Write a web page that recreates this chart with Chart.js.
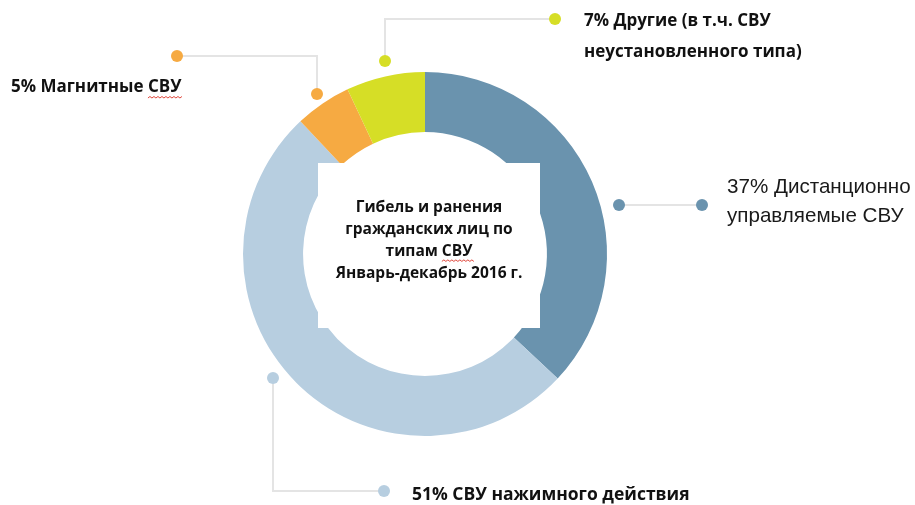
<!DOCTYPE html>
<html>
<head>
<meta charset="utf-8">
<script src="https://cdn.jsdelivr.net/npm/chart.js@4"></script>
<style>
  html, body { margin: 0; padding: 0; background: #fff; }
  #wrap { width: 915px; height: 505px; position: relative; }
</style>
</head>
<body>
<div id="wrap"><canvas id="chart" width="915" height="505"></canvas></div>
<script>
const categories = ['Дистанционно управляемые СВУ', 'СВУ нажимного действия', 'Магнитные СВУ', 'Другие (в т.ч. СВУ неустановленного типа)']
const shares = [37, 51, 5, 7]
const centerTitle = ['Гибель и ранения', 'гражданских лиц по', 'типам СВУ', 'Январь-декабрь 2016 г.']

const colors = ['#6a93ae', '#b7cee0', '#f6aa42', '#d6de26']
const lineColor = '#e4e4e4'

// wavy red spellcheck underline, like in the original screenshot
const squiggle = (ctx, x1, x2, y) => {
  ctx.save()
  ctx.strokeStyle = '#e0453a'
  ctx.lineWidth = 1
  ctx.beginPath()
  ctx.moveTo(x1, y)
  let up = true
  for (let x = x1; x < x2; x += 2) {
    ctx.lineTo(x + 2, up ? y - 1.5 : y)
    up = !up
  }
  ctx.stroke()
  ctx.restore()
}

const dot = (ctx, x, y, r, c) => {
  ctx.fillStyle = c
  ctx.beginPath()
  ctx.arc(x, y, r, 0, Math.PI * 2)
  ctx.fill()
}

const poly = (ctx, pts) => {
  ctx.strokeStyle = lineColor
  ctx.lineWidth = 2
  ctx.beginPath()
  ctx.moveTo(pts[0][0], pts[0][1])
  pts.slice(1).forEach(p => ctx.lineTo(p[0], p[1]))
  ctx.stroke()
}

const labelsPlugin = {
  id: 'calloutLabels',
  afterDraw (chart) {
    const ctx = chart.ctx
    const arc = chart.getDatasetMeta(0).data[0]
    const cx = arc.x
    const cy = arc.y
    ctx.save()

    // white box in the middle
    ctx.fillStyle = '#fff'
    ctx.fillRect(cx - 107, cy - 91, 222, 165)

    // leader lines
    poly(ctx, [[cx - 108, cy - 160], [cx - 108, cy - 198], [cx - 248, cy - 198]])
    dot(ctx, cx - 108, cy - 160, 6, colors[2])
    dot(ctx, cx - 248, cy - 198, 6, colors[2])

    poly(ctx, [[cx - 40, cy - 193], [cx - 40, cy - 235], [cx + 130, cy - 235]])
    dot(ctx, cx - 40, cy - 193, 6, colors[3])
    dot(ctx, cx + 130, cy - 235, 6, colors[3])

    poly(ctx, [[cx + 194, cy - 49], [cx + 277, cy - 49]])
    dot(ctx, cx + 194, cy - 49, 6, colors[0])
    dot(ctx, cx + 277, cy - 49, 6, colors[0])

    poly(ctx, [[cx - 152, cy + 124], [cx - 152, cy + 237], [cx - 41, cy + 237]])
    dot(ctx, cx - 152, cy + 124, 6, colors[1])
    dot(ctx, cx - 41, cy + 237, 6, colors[1])

    // centre title
    ctx.textBaseline = 'middle'
    ctx.fillStyle = '#111'
    ctx.textAlign = 'center'
    ctx.font = 'bold 15.5px "Open Sans"'
    centerTitle.forEach((t, i) => ctx.fillText(t, cx + 4, cy - 46 + i * 21.7))
    {
      const w = ctx.measureText(centerTitle[2]).width
      const ws = ctx.measureText('СВУ').width
      squiggle(ctx, cx + 4 + w / 2 - ws, cx + 4 + w / 2, cy - 46 + 2 * 21.7 + 10)
    }

    // labels
    ctx.fillStyle = '#111'
    ctx.textAlign = 'left'
    ctx.font = 'bold 17px "Open Sans"'
    const magText = shares[2] + '% ' + categories[2]
    ctx.fillText(magText, 11, 87)
    {
      const w = ctx.measureText(magText).width
      const ws = ctx.measureText('СВУ').width
      squiggle(ctx, 11 + w - ws, 11 + w, 98)
    }
    ctx.fillText(shares[3] + '% Другие (в т.ч. СВУ', 584, 21)
    ctx.fillText('неустановленного типа)', 584, 52)
    ctx.font = 'bold 17.5px "Open Sans"'
    ctx.fillText(shares[1] + '% ' + categories[1], 412, 495)

    ctx.font = '20.6px "Liberation Sans"'
    ctx.fillStyle = '#1a1a1a'
    ctx.fillText(shares[0] + '% Дистанционно', 727, 187)
    ctx.fillText('управляемые СВУ', 727, 216)

    ctx.restore()
  }
}

new Chart(document.getElementById('chart'), {
  type: 'doughnut',
  data: {
    labels: categories,
    datasets: [{
      data: shares,
      backgroundColor: colors,
      borderWidth: 0
    }]
  },
  options: {
    responsive: false,
    animation: false,
    cutout: '67%',
    layout: { padding: { left: 243, right: 308, top: 72, bottom: 69 } },
    plugins: {
      legend: { display: false },
      tooltip: { enabled: false }
    }
  },
  plugins: [labelsPlugin]
})
</script>
</body>
</html>
